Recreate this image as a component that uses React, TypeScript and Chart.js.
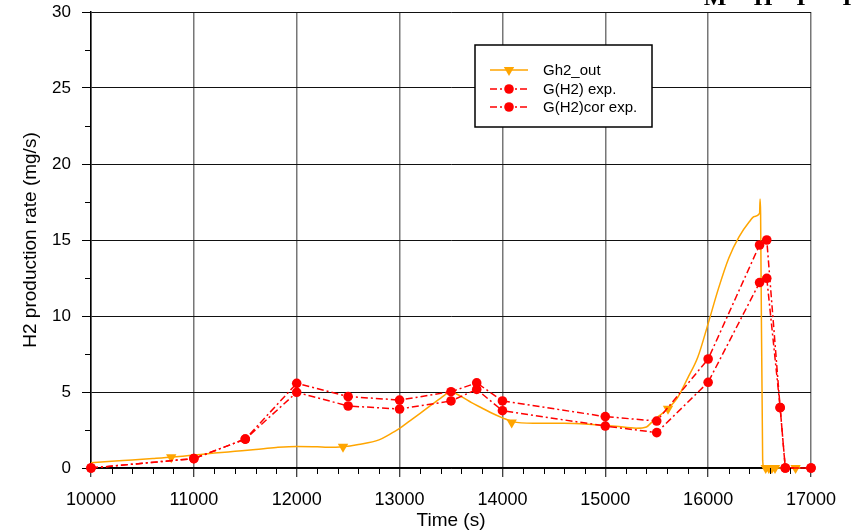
import React, { useEffect, useRef } from "react";
import { Chart, registerables } from "chart.js";

Chart.register(...registerables);

// ---- Data ----
const gh2Time = [10000, 10200, 10400, 10600, 10800, 11000, 11200, 11400, 11600, 11800, 12000, 12200, 12300, 12450, 12600, 12800, 12900, 13000, 13100, 13200, 13300, 13400, 13500, 13600, 13700, 13800, 13900, 14000, 14100, 14300, 14600, 14900, 15100, 15300, 15400, 15450, 15500, 15600, 15700, 15800, 15900, 16000, 16100, 16200, 16300, 16400, 16450, 16500, 16505, 16510, 16530, 16545, 16600, 16700, 16800, 16900];
const gh2Value = [0.35, 0.45, 0.53, 0.62, 0.72, 0.85, 0.98, 1.1, 1.22, 1.35, 1.42, 1.4, 1.36, 1.4, 1.55, 1.85, 2.2, 2.6, 3.1, 3.6, 4.1, 4.6, 5.0, 4.7, 4.3, 3.95, 3.6, 3.3, 3.05, 2.95, 2.95, 2.85, 2.75, 2.62, 2.7, 3.0, 3.3, 3.85, 4.6, 5.9, 7.3, 9.5, 11.8, 13.8, 15.2, 16.2, 16.55, 16.75, 17.7, 16.75, 0.5, 0, 0, 0, 0, 0];
const gh2MarkerTime = [10780, 12450, 14090, 15610, 16560, 16590, 16620, 16650, 16850];
const gh2MarkerValue = [0.7, 1.4, 3.0, 3.9, 0, 0, 0, 0, 0];

const expTime = [10000, 11000, 11500, 12000, 12500, 13000, 13500, 13750, 14000, 15000, 15500, 16000, 16500, 16570, 16700, 16750, 17000];
const expValue = [0, 0.62, 1.9, 5.57, 4.7, 4.47, 5.02, 5.6, 4.41, 3.38, 3.09, 7.17, 14.67, 15.0, 3.97, 0, 0];
const corValue = [0, 0.62, 1.9, 4.98, 4.08, 3.88, 4.41, 5.17, 3.77, 2.76, 2.33, 5.64, 12.2, 12.48, 3.97, 0, 0];

const seriesLabels = ["Gh2_out", "G(H2) exp.", "G(H2)cor exp."];
const xTitle = "Time (s)";
const yTitle = "H2 production rate (mg/s)";
const xTickValues = [10000, 11000, 12000, 13000, 14000, 15000, 16000, 17000];
const yTickValues = [0, 5, 10, 15, 20, 25, 30];
const cornerLetters = ["M", "H", "I", "I"];

const ORANGE = "#ffa500";
const RED = "#ff0000";
const FONT = '"Liberation Sans", Arial, Helvetica, sans-serif';
const DASH = [7, 3, 2, 3];

const toXY = (xs: number[], ys: number[]) => xs.map((x, i) => ({ x, y: ys[i] }));

function drawDownTriangle(ctx: CanvasRenderingContext2D, x: number, y: number, r: number) {
  ctx.beginPath();
  ctx.moveTo(x, y + r);
  ctx.lineTo(x - r * Math.sin(Math.PI / 3), y - r / 2);
  ctx.lineTo(x + r * Math.sin(Math.PI / 3), y - r / 2);
  ctx.closePath();
  ctx.fill();
}

const minorTicksPlugin = {
  id: "minorTicks",
  afterDraw(chart: any) {
    const { ctx, chartArea, scales } = chart;
    const xs = scales.x;
    const ys = scales.y;
    ctx.save();
    ctx.strokeStyle = "#000";
    ctx.lineWidth = 1;
    ctx.beginPath();
    for (let v = xs.min; v <= xs.max; v += 200) {
      if (v % 1000 === 0) continue;
      const px = Math.round(xs.getPixelForValue(v)) + 0.5;
      ctx.moveTo(px, chartArea.bottom);
      ctx.lineTo(px, chartArea.bottom + 6);
    }
    for (let v = ys.min + 2.5; v < ys.max; v += 5) {
      const py = Math.round(ys.getPixelForValue(v)) + 0.5;
      ctx.moveTo(chartArea.left - 6, py);
      ctx.lineTo(chartArea.left, py);
    }
    ctx.stroke();
    ctx.restore();
  },
};

const legendPlugin = {
  id: "boxLegend",
  afterDraw(chart: any) {
    const { ctx } = chart;
    const bx = 475, by = 45, bw = 177, bh = 82;
    ctx.save();
    ctx.fillStyle = "#fff";
    ctx.fillRect(bx, by, bw, bh);
    ctx.strokeStyle = "#000";
    ctx.lineWidth = 1.5;
    ctx.strokeRect(bx, by, bw, bh);
    const rows = [70, 89, 107];
    const x0 = 490, x1 = 528, xm = 509;
    // Gh2_out
    ctx.strokeStyle = ORANGE;
    ctx.fillStyle = ORANGE;
    ctx.lineWidth = 1.5;
    ctx.setLineDash([]);
    ctx.beginPath();
    ctx.moveTo(x0, rows[0]);
    ctx.lineTo(x1, rows[0]);
    ctx.stroke();
    drawDownTriangle(ctx, xm, rows[0], 6);
    // red rows
    for (let i = 1; i < 3; i++) {
      ctx.strokeStyle = RED;
      ctx.fillStyle = RED;
      ctx.setLineDash(DASH);
      ctx.beginPath();
      ctx.moveTo(x0, rows[i]);
      ctx.lineTo(x1, rows[i]);
      ctx.stroke();
      ctx.setLineDash([]);
      ctx.beginPath();
      ctx.arc(xm, rows[i], 4.8, 0, Math.PI * 2);
      ctx.fill();
    }
    ctx.fillStyle = "#000";
    ctx.font = `15px ${FONT}`;
    ctx.textBaseline = "middle";
    ctx.textAlign = "left";
    seriesLabels.forEach((t, i) => ctx.fillText(t, 543, rows[i] + 1));
    // cropped corner letters
    ctx.font = 'bold 24px "Liberation Serif", "DejaVu Serif", serif';
    ctx.textAlign = "center";
    ctx.textBaseline = "alphabetic";
    const cx = [715, 763, 801, 847];
    cornerLetters.forEach((t, i) => ctx.fillText(t, cx[i], 5));
    ctx.restore();
  },
};

export default function App() {
  const ref = useRef<HTMLCanvasElement | null>(null);

  useEffect(() => {
    if (!ref.current) return;
    const chart = new Chart(ref.current, {
      type: "line",
      data: {
        datasets: [
          {
            label: seriesLabels[1],
            data: toXY(expTime, expValue),
            borderColor: RED,
            backgroundColor: RED,
            borderWidth: 1.5,
            borderDash: DASH,
            pointRadius: 4.8,
            pointBorderWidth: 0,
            pointStyle: "circle",
            tension: 0,
            clip: false,
          } as any,
          {
            label: seriesLabels[2],
            data: toXY(expTime, corValue),
            borderColor: RED,
            backgroundColor: RED,
            borderWidth: 1.5,
            borderDash: DASH,
            pointRadius: 4.8,
            pointBorderWidth: 0,
            pointStyle: "circle",
            tension: 0,
            clip: false,
          } as any,
          {
            label: seriesLabels[0],
            data: toXY(gh2Time, gh2Value),
            borderColor: ORANGE,
            backgroundColor: ORANGE,
            borderWidth: 1.5,
            pointRadius: 0,
            cubicInterpolationMode: "monotone",
            clip: false,
          } as any,
          {
            label: seriesLabels[0] + " markers",
            data: toXY(gh2MarkerTime, gh2MarkerValue),
            showLine: false,
            borderColor: ORANGE,
            backgroundColor: ORANGE,
            pointStyle: "triangle",
            rotation: 180,
            pointRadius: 6,
            pointBorderWidth: 0,
            clip: false,
          } as any,
        ],
      },
      options: {
        animation: false,
        responsive: false,
        devicePixelRatio: 1,
        events: [],
        layout: { padding: { top: 12, right: 41, left: 0, bottom: 0 } },
        plugins: {
          legend: { display: false },
          tooltip: { enabled: false },
          title: { display: false },
        },
        scales: {
          x: {
            type: "linear",
            min: 10000,
            max: 17000,
            afterFit: (s: any) => {
              s.height = 64;
              s.paddingLeft = 0;
              s.paddingRight = 0;
            },
            afterBuildTicks: (s: any) => {
              s.ticks = xTickValues.map((v) => ({ value: v }));
            },
            ticks: {
              color: "#000",
              font: { family: FONT, size: 18 },
              padding: 12,
              maxRotation: 0,
              autoSkip: false,
              callback: (v: any) => String(v),
            },
            grid: {
              color: "#777",
              lineWidth: 1.5,
              tickColor: "#000",
              tickLength: 9,
              tickWidth: 1,
            },
            border: { color: "#000", width: 1.5 },
            title: {
              display: true,
              text: xTitle,
              color: "#000",
              font: { family: FONT, size: 19 },
              padding: { top: 0, bottom: 0 },
            },
          },
          y: {
            type: "linear",
            min: 0,
            max: 30,
            afterFit: (s: any) => {
              s.width = 91;
              s.paddingTop = 0;
              s.paddingBottom = 0;
            },
            afterBuildTicks: (s: any) => {
              s.ticks = yTickValues.map((v) => ({ value: v }));
            },
            ticks: {
              color: "#000",
              font: { family: FONT, size: 17 },
              padding: 11,
              callback: (v: any) => String(v),
            },
            grid: {
              color: "#111",
              lineWidth: 1,
              tickColor: "#000",
              tickLength: 9,
            },
            border: { color: "#000", width: 1.5 },
            title: {
              display: true,
              text: yTitle,
              color: "#000",
              font: { family: FONT, size: 19 },
              padding: { top: 19, bottom: 0 },
            },
          },
        },
      } as any,
      plugins: [minorTicksPlugin, legendPlugin],
    });
    return () => chart.destroy();
  }, []);

  return (
    <div style={{ position: "absolute", left: 0, top: 0, width: 852, height: 532, background: "#fff" }}>
      <canvas ref={ref} width={852} height={532} style={{ display: "block" }} />
    </div>
  );
}
